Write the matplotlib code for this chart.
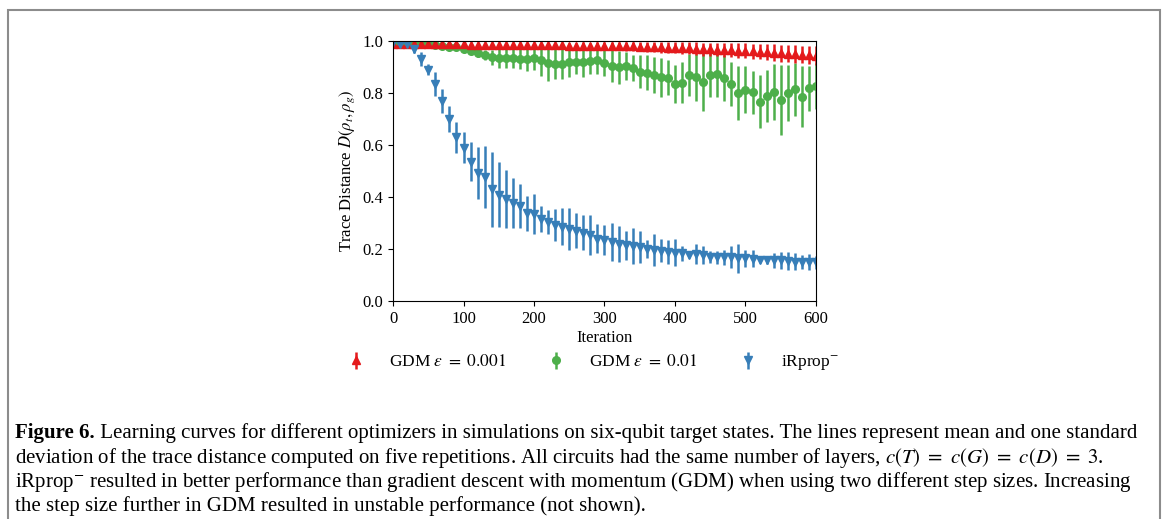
import matplotlib
matplotlib.use("Agg")
import matplotlib.pyplot as plt
from matplotlib.patches import Rectangle

plt.rcParams['font.family'] = ['Liberation Serif', 'DejaVu Serif']
plt.rcParams['mathtext.fontset'] = 'stix'

# iterations (one point every 10 iterations)
iters = list(range(0, 601, 10))

# GDM eps = 0.001 (red)
gdm1_mean = [0.990, 0.990, 0.990, 0.989, 0.989, 0.988, 0.988, 0.988, 0.987, 0.987, 0.987,
             0.986, 0.986, 0.986, 0.985, 0.985, 0.985, 0.985, 0.984, 0.984, 0.984,
             0.984, 0.983, 0.983, 0.983, 0.982, 0.982, 0.982, 0.981, 0.981, 0.981,
             0.980, 0.980, 0.979, 0.979, 0.978, 0.978, 0.977, 0.976, 0.975, 0.974,
             0.973, 0.972, 0.971, 0.969, 0.968, 0.967, 0.966, 0.965, 0.963, 0.962,
             0.960, 0.959, 0.957, 0.955, 0.953, 0.951, 0.950, 0.948, 0.946, 0.944]
gdm1_std = [0.004, 0.004, 0.004, 0.004, 0.005, 0.004, 0.005, 0.005, 0.005, 0.005, 0.005,
            0.006, 0.006, 0.007, 0.006, 0.007, 0.007, 0.008, 0.008, 0.008, 0.009,
            0.010, 0.010, 0.011, 0.011, 0.012, 0.012, 0.013, 0.013, 0.014, 0.014,
            0.015, 0.016, 0.017, 0.018, 0.018, 0.019, 0.020, 0.021, 0.021, 0.022,
            0.023, 0.023, 0.024, 0.025, 0.025, 0.026, 0.027, 0.027, 0.028, 0.029,
            0.030, 0.030, 0.031, 0.032, 0.032, 0.033, 0.034, 0.034, 0.035, 0.036]

# GDM eps = 0.01 (green)
gdm2_mean = [0.991, 0.991, 0.991, 0.990, 0.990, 0.988, 0.985, 0.982, 0.978, 0.976, 0.969,
             0.963, 0.955, 0.946, 0.937, 0.933, 0.933, 0.933, 0.931, 0.931, 0.933,
             0.927, 0.914, 0.912, 0.912, 0.918, 0.921, 0.918, 0.923, 0.927, 0.917,
             0.904, 0.899, 0.904, 0.895, 0.882, 0.878, 0.869, 0.860, 0.859, 0.835,
             0.840, 0.869, 0.860, 0.844, 0.869, 0.872, 0.857, 0.835, 0.801, 0.812,
             0.803, 0.767, 0.788, 0.805, 0.773, 0.799, 0.814, 0.786, 0.818, 0.827]
gdm2_std = [0.003, 0.003, 0.004, 0.004, 0.005, 0.005, 0.006, 0.006, 0.007, 0.008, 0.010,
            0.012, 0.015, 0.020, 0.030, 0.035, 0.036, 0.035, 0.037, 0.045, 0.045,
            0.060, 0.067, 0.059, 0.059, 0.055, 0.049, 0.055, 0.051, 0.055, 0.050,
            0.060, 0.064, 0.054, 0.050, 0.064, 0.067, 0.070, 0.074, 0.067, 0.072,
            0.078, 0.080, 0.091, 0.112, 0.086, 0.086, 0.088, 0.086, 0.104, 0.090,
            0.082, 0.103, 0.100, 0.107, 0.133, 0.107, 0.103, 0.117, 0.086, 0.090]

# iRprop- (blue)
rprop_mean = [0.995, 0.990, 0.990, 0.970, 0.930, 0.890, 0.835, 0.770, 0.700, 0.630, 0.590,
              0.535, 0.493, 0.477, 0.430, 0.408, 0.392, 0.377, 0.365, 0.338, 0.335,
              0.315, 0.304, 0.292, 0.286, 0.277, 0.270, 0.263, 0.254, 0.240, 0.235,
              0.227, 0.219, 0.215, 0.212, 0.208, 0.201, 0.196, 0.193, 0.188, 0.186,
              0.183, 0.177, 0.181, 0.177, 0.170, 0.168, 0.168, 0.170, 0.164, 0.164,
              0.163, 0.158, 0.158, 0.156, 0.156, 0.155, 0.151, 0.151, 0.150, 0.150]
rprop_std = [0.003, 0.005, 0.008, 0.015, 0.028, 0.022, 0.045, 0.045, 0.050, 0.060, 0.060,
             0.075, 0.100, 0.120, 0.145, 0.125, 0.110, 0.096, 0.085, 0.067, 0.077,
             0.050, 0.046, 0.060, 0.070, 0.080, 0.068, 0.067, 0.078, 0.057, 0.057,
             0.073, 0.068, 0.056, 0.070, 0.063, 0.035, 0.060, 0.044, 0.045, 0.053,
             0.030, 0.012, 0.040, 0.035, 0.022, 0.026, 0.028, 0.042, 0.055, 0.034,
             0.032, 0.010, 0.014, 0.030, 0.032, 0.035, 0.032, 0.026, 0.031, 0.025]

labels = [r'GDM $\epsilon\ =\ 0.001$', r'GDM $\epsilon\ =\ 0.01$', r'iRprop$^{-}$']
colors = ['#e41a1c', '#4daf4a', '#377eb8']

caption = [
    "Learning curves for different optimizers in simulations on six-qubit target states. The lines represent mean and one standard",
    r"deviation of the trace distance computed on five repetitions. All circuits had the same number of layers, $c(T)\ =\ c(G)\ =\ c(D)\ =\ 3$.",
    "iRprop$^{-}$ resulted in better performance than gradient descent with momentum (GDM) when using two different step sizes. Increasing",
    "the step size further in GDM resulted in unstable performance (not shown).",
]

fig = plt.figure(figsize=(11.68, 5.19), dpi=100)
ax = fig.add_axes([0.3365, 0.42, 0.3621, 0.501])

# draw green first, then red, blue on top
eb2 = ax.errorbar(iters, gdm2_mean, yerr=gdm2_std, fmt='o', color=colors[1],
                  ms=5.5, elinewidth=1.8, capsize=0, label=labels[1])
eb1 = ax.errorbar(iters, gdm1_mean, yerr=gdm1_std, fmt='^', color=colors[0],
                  ms=6, elinewidth=1.8, capsize=0, label=labels[0])
eb3 = ax.errorbar(iters, rprop_mean, yerr=rprop_std, fmt='v', color=colors[2],
                  ms=6, elinewidth=1.8, capsize=0, label=labels[2])

ax.set_xlim(0, 600)
ax.set_ylim(0, 1.0)
ax.set_xticks(range(0, 601, 100))
ax.set_yticks([0.0, 0.2, 0.4, 0.6, 0.8, 1.0])
ax.set_yticklabels(['0.0', '0.2', '0.4', '0.6', '0.8', '1.0'])
ax.tick_params(labelsize=12)
ax.set_xlabel('Iteration', fontsize=12, labelpad=2)
ax.set_ylabel(r'Trace Distance $D(\rho_t, \rho_g)$', fontsize=12)

fig.legend([eb1, eb2, eb3], labels, loc='center', ncol=3, frameon=False,
           bbox_to_anchor=(593 / 1168, 1 - 363 / 519), fontsize=12.5,
           handlelength=1.0, columnspacing=2.4, handletextpad=1.4)

# caption
fs = 15.0
ypos = [1 - 433 / 519, 1 - 458 / 519, 1 - 482 / 519, 1 - 506 / 519]
x0 = 15 / 1168
t = fig.text(x0, ypos[0], 'Figure 6.', fontsize=fs, fontweight='bold', va='center')
plt.annotate(' ' + caption[0], xy=(1, 0), xycoords=t, va='bottom', ha='left', fontsize=fs)
for i in range(1, 4):
    fig.text(x0, ypos[i], caption[i], fontsize=fs, va='center')

# outer gray frame
fig.patches.append(Rectangle((8 / 1168, -0.1), 1152 / 1168, 1.1 - 10 / 519,
                             transform=fig.transFigure, fill=False,
                             edgecolor='#8c8c8c', linewidth=1.5))

fig.savefig('out.png', dpi=100)
